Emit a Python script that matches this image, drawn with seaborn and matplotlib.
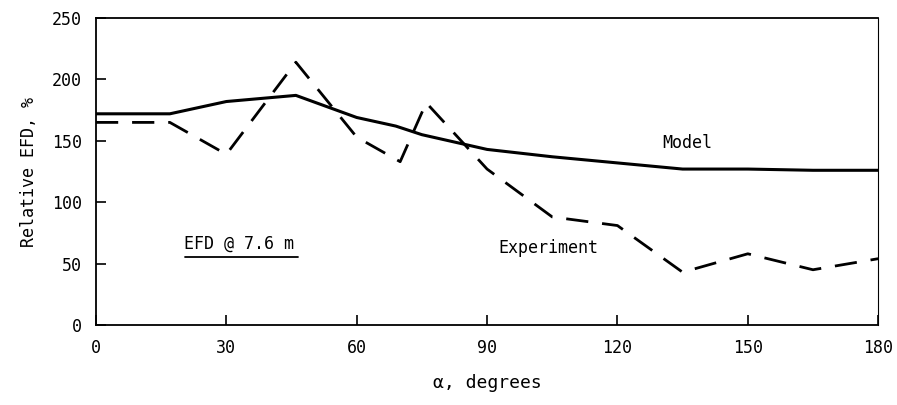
import numpy as np
import matplotlib
matplotlib.use("Agg")
import matplotlib.pyplot as plt
import seaborn as sns
import pandas as pd

# data
angle_exp = [0, 17, 30, 46, 60, 70, 76, 90, 105, 120, 135, 150, 165, 180]
efd_exp = [165, 165, 139, 214, 153, 133, 181, 127, 88, 81, 43, 58, 45, 54]

angle_model = [0, 17, 30, 46, 60, 69, 75, 90, 105, 120, 135, 150, 165, 180]
efd_model = [172, 172, 182, 187, 169, 162, 155, 143, 137, 132, 127, 127, 126, 126]

xticks = [0, 30, 60, 90, 120, 150, 180]
yticks = [0, 50, 100, 150, 200, 250]

sns.set_style("ticks")
plt.rcParams['font.family'] = ['DejaVu Sans Mono']
plt.rcParams['text.color'] = 'black'
plt.rcParams['axes.labelcolor'] = 'black'
plt.rcParams['xtick.color'] = 'black'
plt.rcParams['ytick.color'] = 'black'

df_exp = pd.DataFrame({"angle": angle_exp, "efd": efd_exp})
df_model = pd.DataFrame({"angle": angle_model, "efd": efd_model})

fig = plt.figure(figsize=(8.97, 4.05), dpi=100)
ax = fig.add_axes([0.107, 0.1975, 0.872, 0.758])

sns.lineplot(data=df_model, x="angle", y="efd", ax=ax, color="black",
             linewidth=2.2, sort=False)
sns.lineplot(data=df_exp, x="angle", y="efd", ax=ax, color="black",
             linewidth=2.0, sort=False)
ax.lines[-1].set_dashes([8, 5])

ax.set_xlim(0, 180)
ax.set_ylim(0, 250)
ax.set_xticks(xticks)
ax.set_yticks(yticks)
ax.tick_params(direction="in", length=7, width=1.2, labelsize=12, pad=10)
for s in ax.spines.values():
    s.set_linewidth(1.3)
    s.set_color("black")
ax.spines["right"].set_linewidth(0.8)

ax.set_xlabel("\u03b1, degrees", fontsize=13, labelpad=12)
ax.set_ylabel("Relative EFD, %", fontsize=12, labelpad=10)

ax.text(136, 148, "Model", fontsize=12, ha="center", va="center")
ax.text(104, 63, "Experiment", fontsize=12, ha="center", va="center")
ax.text(33, 66, "EFD @ 7.6 m", fontsize=12, ha="center", va="center")
ax.plot([20.5, 46.5], [55.5, 55.5], color="black", linewidth=1.3)

fig.savefig("out.png", dpi=100)
